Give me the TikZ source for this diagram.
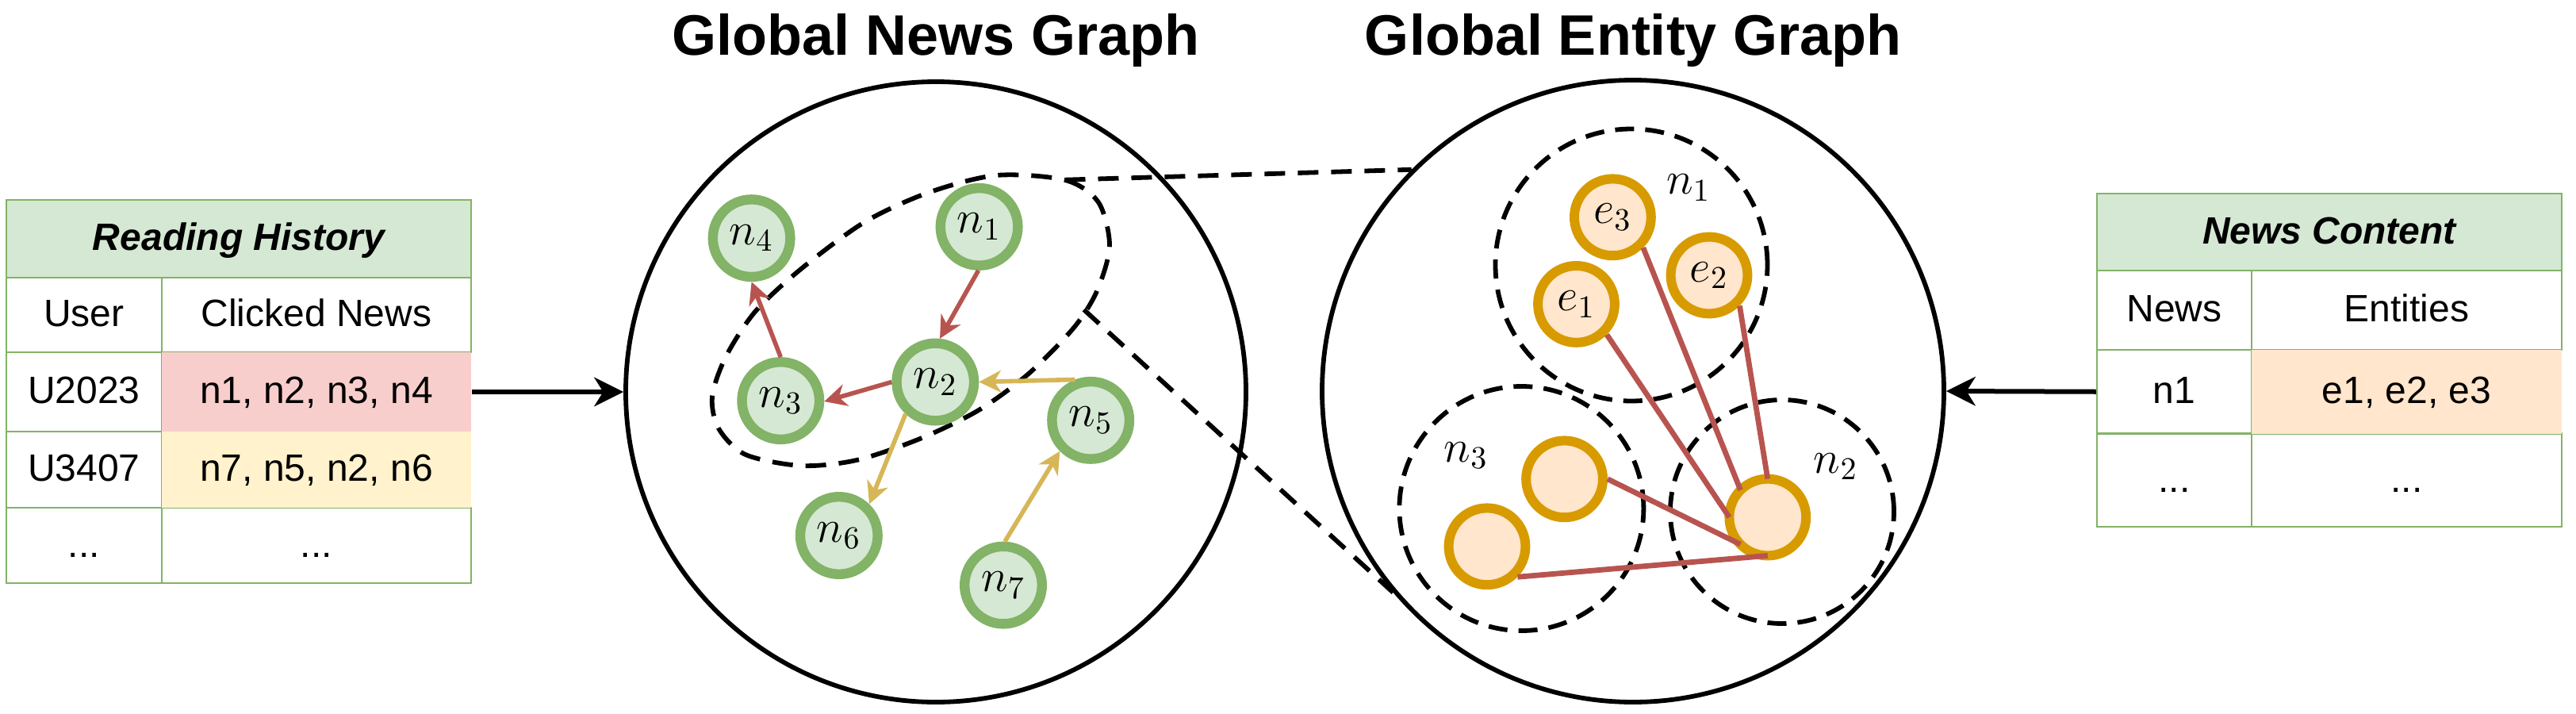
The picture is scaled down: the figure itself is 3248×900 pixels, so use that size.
\documentclass[tikz,border=0pt]{standalone}
\usepackage[no-math]{fontspec}
\setmainfont{Liberation Sans}
\usetikzlibrary{arrows.meta}
\definecolor{tgreen}{HTML}{82B366}
\definecolor{hgreen}{HTML}{D5E8D4}
\definecolor{pinkc}{HTML}{F8CECC}
\definecolor{yelc}{HTML}{FFF2CC}
\definecolor{orfill}{HTML}{FFE6CC}
\definecolor{orline}{HTML}{D79B00}
\definecolor{redl}{HTML}{B85450}
\definecolor{yell}{HTML}{D6B656}
\begin{document}
\begin{tikzpicture}[x=0.25pt,y=-0.25pt,
  cell/.style={draw=tgreen, line width=0.6pt, inner sep=0pt, text height=9.6pt, text depth=2.16pt, font=\fontsize{12}{14}\selectfont},
  cellc/.style={draw=none, inner sep=0pt, text height=9.6pt, text depth=2.16pt, font=\fontsize{12}{14}\selectfont},
  hdr/.style={cell, fill=hgreen, font=\fontsize{12}{14}\selectfont\bfseries\itshape},
  ttl/.style={anchor=base, inner sep=0pt, font=\fontsize{18}{22}\selectfont\bfseries},
  bigc/.style={circle, draw=black, line width=1.45pt, inner sep=0pt},
  dline/.style={draw=black, line width=1.45pt, dash pattern=on 6.5pt off 4pt},
  dcirc/.style={circle, draw=black, line width=1.45pt, dash pattern=on 6pt off 3.5pt, inner sep=0pt},
  nnode/.style={circle, draw=tgreen, fill=hgreen, line width=3.1pt, minimum size=24.4pt, inner sep=0pt, font=\fontsize{14.5}{16}\selectfont},
  enode/.style={circle, draw=orline, fill=orfill, line width=3pt, minimum size=24.2pt, inner sep=0pt, font=\fontsize{14.5}{16}\selectfont},
  mlabel/.style={inner sep=0pt, font=\fontsize{14.5}{16}\selectfont},
  rarr/.style={draw=redl, line width=1.4pt, -{Stealth[length=7pt,width=7pt,inset=2.2pt]}},
  yarr/.style={draw=yell, line width=1.4pt, -{Stealth[length=7pt,width=7pt,inset=2.2pt]}},
  eedge/.style={draw=redl, line width=1.7pt},
  barr/.style={draw=black, line width=1.5pt, -{Stealth[length=9.2pt,width=9.1pt,inset=2.8pt]}}
]
\useasboundingbox (0,0) rectangle (3248,900);

% ---------- titles ----------
\node[ttl] (t1) at (1180,69) {Global News Graph};
\node[ttl] (t2) at (2059,69) {Global Entity Graph};

% ---------- big circles ----------
\node[bigc, minimum size=195.5pt] (G1) at (1180,494) {};
\node[bigc, minimum size=196pt] (G2) at (2059,493) {};

% ---------- left table ----------
\node[hdr, minimum width=146.5pt, minimum height=24.5pt] (lh) at (301,301) {Reading History};
\node[cell, minimum width=49pt, minimum height=23.5pt] (l11) at (106,397) {User};
\node[cell, minimum width=97.5pt, minimum height=23.5pt] (l12) at (399,397) {Clicked News};
\node[cell, minimum width=49pt, minimum height=25pt] (l21) at (106,494) {U2023};
\node[cell, minimum width=49pt, minimum height=24pt] (l31) at (106,592) {U3407};
\node[cell, minimum width=49pt, minimum height=23.75pt] (l41) at (106,687.5) {...};
\node[cell, minimum width=97.5pt, minimum height=23.75pt] (l42) at (399,687.5) {...};
\node[cellc, fill=pinkc, minimum width=97.5pt, minimum height=25pt] (l22) at (399,494) {n1, n2, n3, n4};
\node[cellc, fill=yelc, minimum width=97.5pt, minimum height=24pt] (l32) at (399,592) {n7, n5, n2, n6};

% ---------- right table ----------
\node[hdr, minimum width=146.5pt, minimum height=24.25pt] (rh) at (2937,292.5) {News Content};
\node[cell, minimum width=48.75pt, minimum height=25pt] (r11) at (2741.5,391) {News};
\node[cell, minimum width=97.75pt, minimum height=25pt] (r12) at (3034.5,391) {Entities};
\node[cell, minimum width=48.75pt, minimum height=26.375pt] (r21) at (2741.5,493.75) {n1};
\node[cell, minimum width=48.75pt, minimum height=29.375pt] (r31) at (2741.5,605.25) {...};
\node[cell, minimum width=97.75pt, minimum height=29.375pt] (r32) at (3034.5,605.25) {...};
\node[cellc, fill=orfill, minimum width=97.75pt, minimum height=26.375pt] (r22) at (3034.5,493.75) {e1, e2, e3};

% ---------- input arrows ----------
\draw[barr] (l22.east) -- (G1.west);
\draw[barr] (r21.west) -- (G2.east);

% ---------- news graph ----------
\draw[dline] plot[smooth cycle] coordinates {(1256,221) (1343,227) (1385,255) (1399,310) (1383,367) (1354,413) (1297,471) (1234,517) (1160,553) (1080,580) (1010,587) (940,573) (906,540) (898,500) (915,450) (952,393) (1010,339) (1090,280) (1170,243)};
\coordinate (m1) at (1342.5,226.7);
\coordinate (m2) at (1366.6,390.3);
\draw[dline] (m1) -- (G2.135.4);
\draw[dline] (m2) -- (G2.220);

\node[nnode] (n1) at (1234.6,285.9) {$n_1$};
\node[nnode] (n2) at (1179.3,481.5) {$n_2$};
\node[nnode] (n3) at (984.3,505.1) {$n_3$};
\node[nnode] (n4) at (947.6,300.2) {$n_4$};
\node[nnode] (n5) at (1375.2,529.8) {$n_5$};
\node[nnode] (n6) at (1057.8,675) {$n_6$};
\node[nnode] (n7) at (1265,737.6) {$n_7$};

\draw[rarr] (n1.-91) -- (n2.84);
\draw[rarr] (n2.180) -- (n3.-1);
\draw[rarr] (n3.90) -- (n4.-90);
\draw[yarr] (n5.111) -- (n2.0);
\draw[yarr] (n2.-133) -- (n6.46);
\draw[yarr] (n7.88) -- (n5.-135);

% ---------- entity graph ----------
\node[dcirc, minimum size=85.75pt] (D1) at (2057,334) {};
\node[dcirc, minimum size=77pt] (D3) at (1918.4,641) {};
\node[dcirc, minimum size=70.5pt] (D2) at (2247,645) {};
\node[mlabel] (k1) at (2129,236.5) {$n_1$};
\node[mlabel] (k3) at (1848.6,574) {$n_3$};
\node[mlabel] (k2) at (2314.7,588) {$n_2$};

\node[enode] (e3) at (2033.4,273.8) {$e_3$};
\node[enode] (e2) at (2155,347) {$e_2$};
\node[enode] (e1) at (1987.5,383.4) {$e_1$};
\node[enode] (ea) at (1972.6,603.8) {};
\node[enode] (eb) at (1875,688.8) {};
\node[enode, outer sep=0pt] (ec) at (2228.8,652) {};

\draw[eedge] (e3.-45) -- (ec.135);
\draw[eedge] (e1.-45) -- (ec.180);
\draw[eedge] (e2.-45) -- (ec.90);
\draw[eedge] (ea.0) -- (ec.-135);
\draw[eedge] (eb.-45) -- (ec.-90);
\end{tikzpicture}
\end{document}
